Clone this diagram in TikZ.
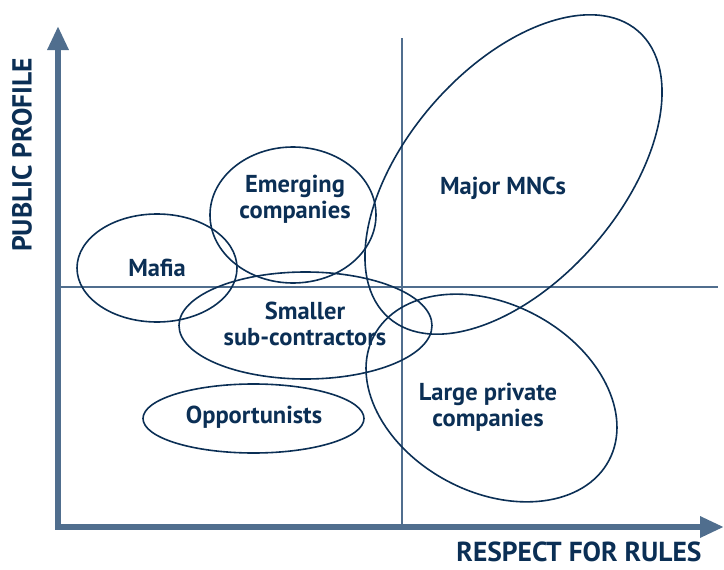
\documentclass[tikz,border=0pt]{standalone}
\usepackage{fontspec}
\setmainfont{PT Sans}
\usetikzlibrary{arrows.meta}
\definecolor{axisblue}{HTML}{506E8E}
\definecolor{navy}{HTML}{0B2F55}
\tikzset{
	axisline/.style={line width=6pt,axisblue,line join=miter,
		{Triangle[length=24pt,width=20pt]}-{Triangle[length=24pt,width=20pt]}},
	divider/.style={line width=1.4pt,axisblue},
	group/.style={line width=1.6pt,navy},
	grouptext/.style={font=\bfseries\fontsize{24.5}{26.5}\selectfont,text=navy,align=center},
	axistext/.style={font=\bfseries\fontsize{27.5}{30}\selectfont,text=navy}
}

\begin{document}
\begin{tikzpicture}[x=1pt,y=-1pt]
\useasboundingbox (0,0) rectangle (724,570);
%quadrants
\draw[divider](402,38)--(402,527);
\draw[divider](58,287)--(718,287);
%axes
\draw[axisline](58,26)--(58,527)--(724,527);
\node[axistext,rotate=90] (yname) at (22,155) {PUBLIC PROFILE};
\node[axistext] (xname) at (579,552) {RESPECT FOR RULES};
%groups
\draw[group](157,268) ellipse [x radius=80pt,y radius=54pt];
\draw[group](293,215) ellipse [x radius=83pt,y radius=68pt];
\draw[group](305.5,325.5) ellipse [x radius=126.5pt,y radius=53.5pt];
\draw[group](253.5,418.5) ellipse [x radius=110.5pt,y radius=34.5pt];
\draw[group](513.5,174.5) ellipse [x radius=190pt,y radius=107pt,rotate=49];
\draw[group](491.5,398) ellipse [x radius=133pt,y radius=94pt,rotate=-28];
%names
\node[grouptext] (mafia) at (157,268) {Mafia};
\node[grouptext] (emerging) at (295,199) {Emerging\\companies};
\node[grouptext] (smaller) at (305,324) {Smaller\\sub-contractors};
\node[grouptext] (opportunists) at (254,417) {Opportunists};
\node[grouptext] (mncs) at (503,188) {Major MNCs};
\node[grouptext] (largepriv) at (488,407) {Large private\\companies};
\end{tikzpicture}
\end{document}
